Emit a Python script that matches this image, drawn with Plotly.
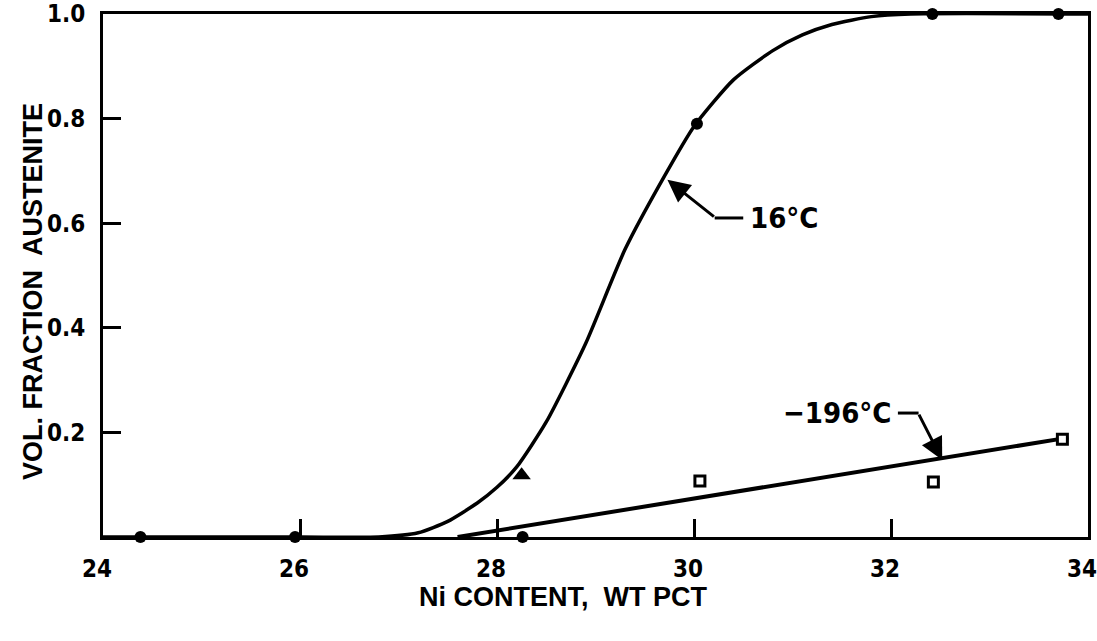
import plotly.graph_objects as go

# ---- data ----
# 16 C curve (smooth sigmoid drawn through data)
curve16_x = [24.0, 26.0, 26.8, 27.2, 27.5, 27.8, 28.0, 28.2, 28.5, 28.9, 29.3, 29.7, 30.0, 30.4, 30.8, 31.1, 31.4, 31.8, 32.2, 34.0]
curve16_y = [0.0, 0.0, 0.0, 0.008, 0.03, 0.065, 0.095, 0.134, 0.22, 0.37, 0.55, 0.69, 0.785, 0.874, 0.93, 0.96, 0.98, 0.995, 1.0, 1.0]

# 16 C measured points (filled circles)
pts16_x = [24.38, 25.95, 28.26, 30.03, 32.42, 33.7]
pts16_y = [0.0, 0.0, 0.0, 0.79, 1.0, 1.0]

# extra point (filled triangle)
tri_x = [28.25]
tri_y = [0.118]

# -196 C straight line
line196_x = [27.6, 33.8]
line196_y = [0.0, 0.19]

# -196 C measured points (open squares)
pts196_x = [30.06, 32.43, 33.74]
pts196_y = [0.107, 0.105, 0.187]

x_ticks = [24, 26, 28, 30, 32, 34]
y_ticks = [0.2, 0.4, 0.6, 0.8, 1.0]
y_tick_text = ["0.2", "0.4", "0.6", "0.8", "1.0"]

FONT = "DejaVu Sans Condensed, Liberation Sans Narrow, Liberation Sans, sans-serif"
TFONT = "Liberation Sans, Arial, sans-serif"

fig = go.Figure()
fig.add_trace(go.Scatter(x=curve16_x, y=curve16_y, mode="lines",
                         line=dict(color="black", width=3.5, shape="spline", smoothing=0.6),
                         hoverinfo="skip", cliponaxis=False))
fig.add_trace(go.Scatter(x=line196_x, y=line196_y, mode="lines",
                         line=dict(color="black", width=4), cliponaxis=False))
fig.add_trace(go.Scatter(x=pts16_x, y=pts16_y, mode="markers",
                         marker=dict(symbol="circle", size=12, color="black"), cliponaxis=False))
fig.add_trace(go.Scatter(x=tri_x, y=tri_y, mode="markers",
                         marker=dict(symbol="triangle-up", size=16, color="black"), cliponaxis=False))
fig.add_trace(go.Scatter(x=pts196_x, y=pts196_y, mode="markers",
                         marker=dict(symbol="square", size=10, color="white",
                                     line=dict(color="black", width=3)), cliponaxis=False))

fig.update_xaxes(range=[24, 34], tickvals=x_ticks, ticks="inside", ticklen=18, tickwidth=3,
                 tickcolor="black", showline=True, linewidth=3, linecolor="black", mirror=True,
                 showgrid=False, zeroline=False, automargin=False,
                 tickfont=dict(family=FONT, size=24, color="black", weight="bold"),
                 ticklabelstandoff=8, ticklabelshift=-6, ticklabeloverflow="allow")
fig.update_yaxes(range=[0, 1.0], tickvals=y_ticks, ticktext=y_tick_text, ticks="inside",
                 ticklen=18, tickwidth=3, tickcolor="black", showline=True, linewidth=3,
                 linecolor="black", mirror=True, showgrid=False, zeroline=False, automargin=False,
                 tickfont=dict(family=FONT, size=24, color="black", weight="bold"),
                 ticklabelstandoff=10, ticklabeloverflow="allow")

annotations = [
    dict(text="Ni CONTENT,  WT PCT", xref="paper", yref="paper", x=(563 - 103) / 985, y=-(597 - 537) / 523,
         showarrow=False, font=dict(family=TFONT, size=27, color="black", weight="bold"),
         xanchor="center", yanchor="middle"),
    dict(text="VOL. FRACTION  AUSTENITE", xref="paper", yref="paper", x=-(103 - 33) / 985, y=(537 - 292) / 523,
         showarrow=False, textangle=-90, font=dict(family=TFONT, size=27, color="black", weight="bold"),
         xanchor="center", yanchor="middle"),
    dict(text="16°C", x=30.92, y=0.61, showarrow=False,
         font=dict(family=FONT, size=29, color="black", weight="bold")),
    dict(text="", x=29.73, y=0.683, showarrow=True, ax=48, ay=38, arrowhead=2, arrowsize=1.5,
         arrowwidth=3, arrowcolor="black"),
    dict(text="−196°C", x=31.46, y=0.237, showarrow=False,
         font=dict(family=FONT, size=29, color="black", weight="bold")),
    dict(text="", x=32.52, y=0.147, showarrow=True, ax=-24, ay=-47, arrowhead=2, arrowsize=1.5,
         arrowwidth=3, arrowcolor="black"),
]
fig.update_layout(annotations=annotations)

fig.add_shape(type="line", x0=30.21, x1=30.50, y0=0.61, y1=0.61, line=dict(color="black", width=3))
fig.add_shape(type="line", x0=32.07, x1=32.28, y0=0.237, y1=0.237, line=dict(color="black", width=3))

fig.update_layout(width=1097, height=641, margin=dict(l=103, r=9, t=14, b=104),
                  paper_bgcolor="white", plot_bgcolor="white", showlegend=False)

fig.write_html("out.html")
